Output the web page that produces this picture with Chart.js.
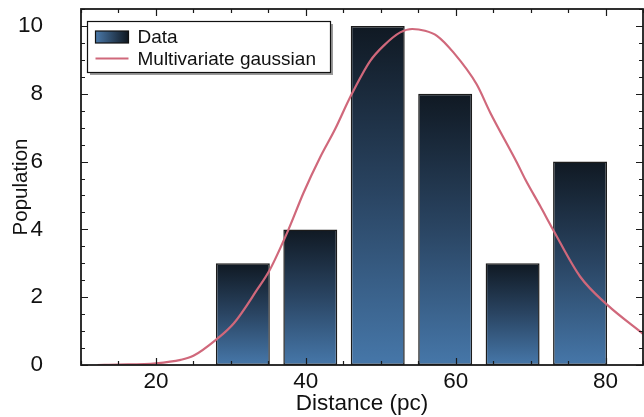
<!DOCTYPE html>
<html>
<head>
<meta charset="utf-8">
<script src="https://cdn.jsdelivr.net/npm/chart.js@4/dist/chart.umd.min.js"></script>
<style>
  html, body { margin: 0; padding: 0; background: #ffffff; }
  canvas { display: block; }
</style>
</head>
<body>
<canvas id="chart" width="644" height="417"></canvas>
<script>
// Histogram of distances (bin centres in pc) and counts per bin
const binCenters = [31.6, 40.6, 49.6, 58.6, 67.6, 76.6];
const counts = [3, 4, 10, 8, 3, 6];

// Fitted multivariate gaussian, sampled along the distance axis
const curveX = [12.2, 15, 20, 23.3, 25, 28, 30.4, 33.5, 35.2, 37.7, 39.7, 41.9, 43.9, 45.9,
                48.6, 50.4, 52.6, 54.2, 55.9, 57.5, 59.7, 62.8, 64.6, 68.2, 69.3, 71.3,
                73.0, 76.6, 80.2, 85.0];
const curveY = [0.0, 0.01, 0.05, 0.15, 0.27, 0.74, 1.23, 2.22, 2.81, 4.0, 5.08, 6.12, 6.95, 7.89,
                8.97, 9.42, 9.81, 9.91, 9.86, 9.71, 9.22, 8.28, 7.45, 5.96, 5.47, 4.68,
                3.99, 2.61, 1.78, 0.92];

// Axis ticks
const xTicks = [20, 40, 60, 80];
const yTicks = [0, 2, 4, 6, 8, 10];
const xMinorStep = 5;
const yMinorStep = 0.5;

const FONT = "'Liberation Sans', Arial, Helvetica, sans-serif";
const INK = '#111111';
const CURVE_COLOR = '#d0687b';

// Each bar shades from dark navy at its top to steel blue at the baseline
function barGradient(context) {
  const chart = context.chart;
  const area = chart.chartArea;
  if (!area) return '#3a6795';
  const raw = context.raw;
  if (!raw) return '#3a6795';
  const yScale = chart.scales.y;
  const top = yScale.getPixelForValue(raw.y);
  const bottom = yScale.getPixelForValue(0);
  const g = chart.ctx.createLinearGradient(0, top, 0, bottom);
  g.addColorStop(0, '#101923');
  g.addColorStop(0.5, '#2a4563');
  g.addColorStop(1, '#4677a9');
  return g;
}

// Box frame with inward ticks on all four sides
const framePlugin = {
  id: 'frame',
  afterDatasetsDraw(chart) {
    const { ctx, chartArea: a, scales: { x, y } } = chart;
    ctx.save();
    ctx.strokeStyle = '#1a1a1a';
    ctx.lineWidth = 1.2;
    const major = 7, minor = 4;
    ctx.beginPath();
    for (let v = Math.ceil(x.min / xMinorStep) * xMinorStep; v <= x.max; v += xMinorStep) {
      const px = Math.round(x.getPixelForValue(v)) + 0.5;
      const len = xTicks.includes(v) ? major : minor;
      ctx.moveTo(px, a.bottom); ctx.lineTo(px, a.bottom - len);
      ctx.moveTo(px, a.top); ctx.lineTo(px, a.top + len);
    }
    for (let v = 0; v <= y.max + 1e-9; v += yMinorStep) {
      const py = Math.round(y.getPixelForValue(v)) + 0.5;
      const len = yTicks.includes(Math.round(v * 100) / 100) ? major : minor;
      ctx.moveTo(a.left, py); ctx.lineTo(a.left + len, py);
      ctx.moveTo(a.right, py); ctx.lineTo(a.right - len, py);
    }
    ctx.stroke();
    ctx.lineWidth = 1.8;
    ctx.strokeRect(a.left, a.top, a.right - a.left, a.bottom - a.top);
    ctx.restore();
  }
};

// Boxed legend with a drop shadow in the upper-left corner of the plot
const legendPlugin = {
  id: 'boxLegend',
  afterDraw(chart) {
    const { ctx, chartArea: a } = chart;
    const ds = chart.data.datasets;
    const bx = a.left + 6.5, by = a.top + 12.5, bw = 243, bh = 51;
    ctx.save();
    ctx.fillStyle = '#9a9a9a';
    ctx.fillRect(bx + 2.5, by + 2.5, bw, bh);
    ctx.fillStyle = '#ffffff';
    ctx.fillRect(bx, by, bw, bh);
    ctx.strokeStyle = '#111111';
    ctx.lineWidth = 1.2;
    ctx.strokeRect(bx, by, bw, bh);

    const sx = bx + 8, sw = 33;
    // bar swatch
    const row1 = by + 15.5;
    const sg = ctx.createLinearGradient(sx, 0, sx + sw, 0);
    sg.addColorStop(0, '#4a79aa');
    sg.addColorStop(1, '#0f1720');
    ctx.fillStyle = sg;
    ctx.fillRect(sx, row1 - 6, sw, 12);
    ctx.strokeStyle = '#111';
    ctx.lineWidth = 1.2;
    ctx.strokeRect(sx, row1 - 6, sw, 12);
    // line swatch
    const row2 = by + 37;
    ctx.strokeStyle = CURVE_COLOR;
    ctx.lineWidth = 2;
    ctx.beginPath();
    ctx.moveTo(sx, row2); ctx.lineTo(sx + sw, row2);
    ctx.stroke();

    ctx.fillStyle = INK;
    ctx.font = '19px ' + FONT;
    ctx.textBaseline = 'middle';
    ctx.textAlign = 'left';
    ctx.fillText(ds[0].label, sx + sw + 9, row1 + 1);
    ctx.fillText(ds[1].label, sx + sw + 9, row2 + 1);
    ctx.restore();
  }
};

new Chart(document.getElementById('chart'), {
  type: 'bar',
  data: {
    datasets: [
      {
        type: 'bar',
        label: 'Data',
        data: binCenters.map((c, i) => ({ x: c, y: counts[i] })),
        backgroundColor: barGradient,
        borderColor: '#1c1c1c',
        borderWidth: 1.5,
        borderSkipped: false,
        barPercentage: 0.8,
        categoryPercentage: 1.0,
        order: 2
      },
      {
        type: 'line',
        label: 'Multivariate gaussian',
        data: curveX.map((v, i) => ({ x: v, y: curveY[i] })),
        borderColor: CURVE_COLOR,
        borderWidth: 2.2,
        pointRadius: 0,
        cubicInterpolationMode: 'monotone',
        fill: false,
        order: 1
      }
    ]
  },
  options: {
    responsive: false,
    devicePixelRatio: 1,
    animation: false,
    layout: { padding: { top: 9, right: 1, left: 0, bottom: 0 } },
    plugins: {
      legend: { display: false },
      tooltip: { enabled: false }
    },
    scales: {
      x: {
        type: 'linear',
        min: 10,
        max: 85,
        offset: false,
        grid: { display: false, drawTicks: false },
        border: { display: false },
        afterFit(s) { s.height = 52; s.paddingLeft = 0; s.paddingRight = 0; },
        afterBuildTicks(s) { s.ticks = xTicks.map(v => ({ value: v })); },
        ticks: {
          padding: 3.5,
          color: INK,
          font: { family: FONT, size: 22.5 },
          maxRotation: 0,
          autoSkip: false
        },
        title: {
          display: true,
          text: 'Distance (pc)',
          color: INK,
          font: { family: FONT, size: 22.5 },
          padding: { top: 0, bottom: 0 }
        }
      },
      y: {
        type: 'linear',
        min: 0,
        max: 10.5,
        grid: { display: false, drawTicks: false },
        border: { display: false },
        afterFit(s) { s.width = 81; s.paddingTop = 0; s.paddingBottom = 0; },
        afterBuildTicks(s) { s.ticks = yTicks.map(v => ({ value: v })); },
        ticks: {
          padding: 38,
          color: INK,
          font: { family: FONT, size: 22.5 },
          autoSkip: false
        },
        title: {
          display: true,
          text: 'Population',
          color: INK,
          font: { family: FONT, size: 20.5 },
          padding: { top: 9, bottom: 0 }
        }
      }
    }
  },
  plugins: [framePlugin, legendPlugin]
});
</script>
</body>
</html>
